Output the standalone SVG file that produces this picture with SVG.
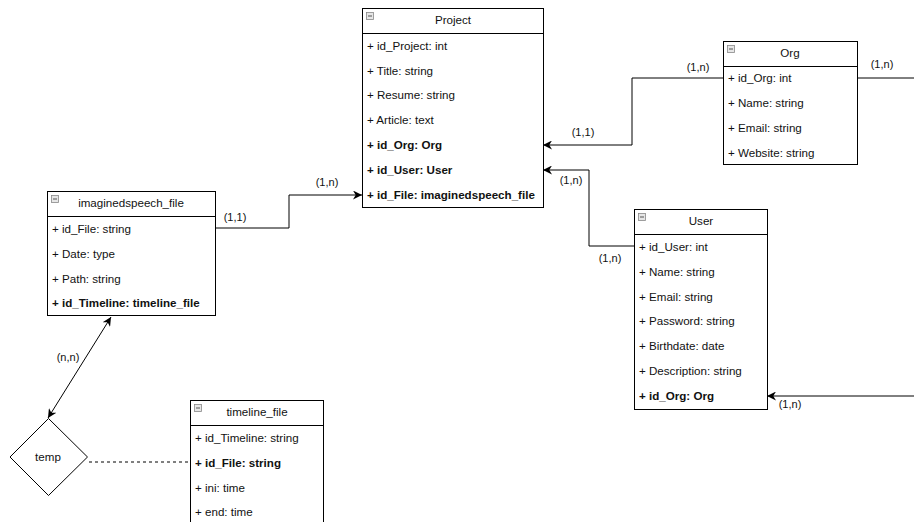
<svg xmlns="http://www.w3.org/2000/svg" width="914" height="522" viewBox="0 0 914 522">
<style>
.box{fill:#fff;stroke:#000;stroke-width:1}
.sep{stroke:#000;stroke-width:1}
.t{font-family:"Liberation Sans",Arial,sans-serif;font-size:11.6px;fill:#111;dominant-baseline:central}
.b{font-weight:bold}
.h{text-anchor:middle}
.lbl{font-family:"Liberation Sans",Arial,sans-serif;font-size:11px;fill:#111;text-anchor:middle;dominant-baseline:central}
.ic{fill:#e6e6e6;stroke:#888;stroke-width:0.8}
.icm{stroke:#555;stroke-width:1}
.ln{fill:none;stroke:#000;stroke-width:1}
.dash{fill:none;stroke:#000;stroke-width:1;stroke-dasharray:3 3}
</style>
<defs>
<marker id="arr" viewBox="0 0 10 10" refX="10" refY="5" markerWidth="9" markerHeight="9" markerUnits="userSpaceOnUse" orient="auto-start-reverse">
<path d="M0,0 L10,5 L0,10 L3,5 Z" fill="#000"/>
</marker>
</defs>

<g id="connectors">
<polyline class="ln" points="215,228 289,228 289,195 362,195" marker-end="url(#arr)"/>
<text class="lbl" x="235" y="217">(1,1)</text>
<text class="lbl" x="327" y="182">(1,n)</text>

<polyline class="ln" points="723,78 632,78 632,145 543,145" marker-end="url(#arr)"/>
<text class="lbl" x="698" y="67">(1,n)</text>
<text class="lbl" x="583" y="132">(1,1)</text>

<polyline class="ln" points="634,246 589,246 589,170 543,170" marker-end="url(#arr)"/>
<text class="lbl" x="571" y="180">(1,n)</text>
<text class="lbl" x="610" y="258">(1,n)</text>

<polyline class="ln" points="857,78 914,78"/>
<polyline class="ln" points="914,396 767,396" marker-end="url(#arr)"/>
<text class="lbl" x="882" y="64">(1,n)</text>
<text class="lbl" x="790" y="404">(1,n)</text>

<line class="ln" x1="111" y1="317" x2="48" y2="418" marker-start="url(#arr)" marker-end="url(#arr)"/>
<text class="lbl" x="68" y="357">(n,n)</text>

<line class="dash" x1="89" y1="462" x2="190" y2="462"/>
</g>

<g id="project">
<rect class="box" x="362.5" y="8.5" width="181" height="199"/>
<line class="sep" x1="362.5" y1="33.5" x2="543.5" y2="33.5"/>
<rect class="ic" x="366.5" y="12.5" width="7" height="7"/><line class="icm" x1="368" y1="16" x2="372" y2="16"/>
<text class="t h" x="453" y="19">Project</text>
<text class="t" x="367" y="45">+ id_Project: int</text>
<text class="t" x="367" y="70">+ Title: string</text>
<text class="t" x="367" y="94">+ Resume: string</text>
<text class="t" x="367" y="119">+ Article: text</text>
<text class="t b" x="367" y="144">+ id_Org: Org</text>
<text class="t b" x="367" y="169">+ id_User: User</text>
<text class="t b" x="367" y="194">+ id_File: imaginedspeech_file</text>
</g>

<g id="imaginedspeech_file">
<rect class="box" x="47.5" y="191.5" width="168" height="124"/>
<line class="sep" x1="47.5" y1="216.5" x2="215.5" y2="216.5"/>
<rect class="ic" x="51.5" y="195.5" width="7" height="7"/><line class="icm" x1="53" y1="199" x2="57" y2="199"/>
<text class="t h" x="131" y="202">imaginedspeech_file</text>
<text class="t" x="52" y="228">+ id_File: string</text>
<text class="t" x="52" y="253">+ Date: type</text>
<text class="t" x="52" y="278">+ Path: string</text>
<text class="t b" x="52" y="302">+ id_Timeline: timeline_file</text>
</g>

<g id="org">
<rect class="box" x="723.5" y="41.5" width="134" height="123"/>
<line class="sep" x1="723.5" y1="66.5" x2="857.5" y2="66.5"/>
<rect class="ic" x="727.5" y="45.5" width="7" height="7"/><line class="icm" x1="729" y1="49" x2="733" y2="49"/>
<text class="t h" x="790" y="52">Org</text>
<text class="t" x="728" y="77">+ id_Org: int</text>
<text class="t" x="728" y="102">+ Name: string</text>
<text class="t" x="728" y="127">+ Email: string</text>
<text class="t" x="728" y="152">+ Website: string</text>
</g>

<g id="user">
<rect class="box" x="634.5" y="209.5" width="133" height="200"/>
<line class="sep" x1="634.5" y1="234.5" x2="767.5" y2="234.5"/>
<rect class="ic" x="638.5" y="213.5" width="7" height="7"/><line class="icm" x1="640" y1="217" x2="644" y2="217"/>
<text class="t h" x="701" y="220">User</text>
<text class="t" x="639" y="246">+ id_User: int</text>
<text class="t" x="639" y="271">+ Name: string</text>
<text class="t" x="639" y="296">+ Email: string</text>
<text class="t" x="639" y="320">+ Password: string</text>
<text class="t" x="639" y="345">+ Birthdate: date</text>
<text class="t" x="639" y="370">+ Description: string</text>
<text class="t b" x="639" y="395">+ id_Org: Org</text>
</g>

<g id="timeline_file">
<rect class="box" x="190.5" y="400.5" width="133" height="130"/>
<line class="sep" x1="190.5" y1="425.5" x2="323.5" y2="425.5"/>
<rect class="ic" x="194.5" y="404.5" width="7" height="7"/><line class="icm" x1="196" y1="408" x2="200" y2="408"/>
<text class="t h" x="257" y="411">timeline_file</text>
<text class="t" x="195" y="437">+ id_Timeline: string</text>
<text class="t b" x="195" y="462">+ id_File: string</text>
<text class="t" x="195" y="487">+ ini: time</text>
<text class="t" x="195" y="511">+ end: time</text>
</g>

<g id="temp">
<polygon class="box" points="48.5,418.5 87.5,457 48.5,495.5 10,457"/>
<text class="t h" x="48" y="456">temp</text>
</g>
</svg>
